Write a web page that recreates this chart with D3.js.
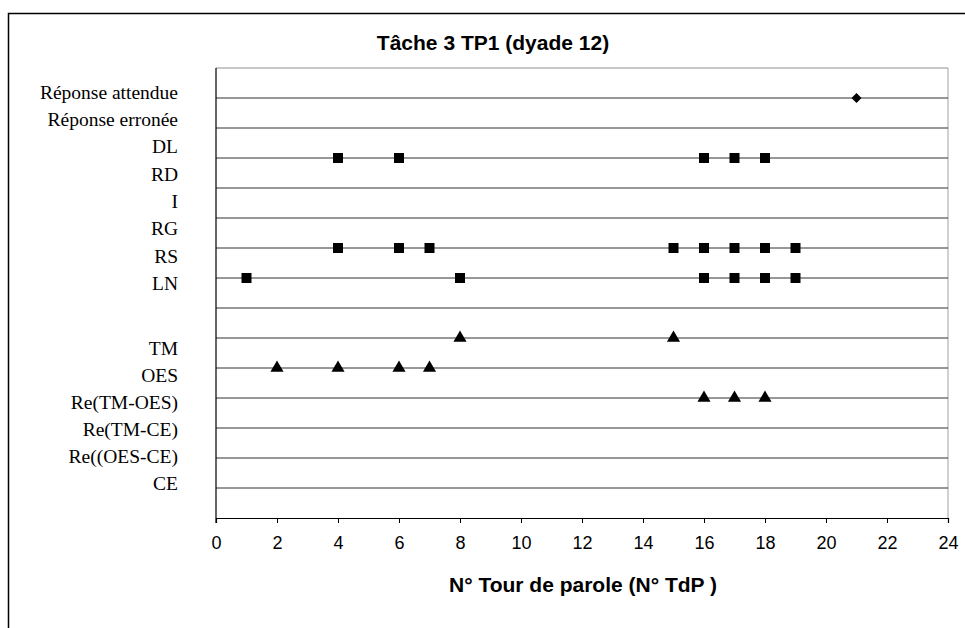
<!DOCTYPE html>
<html><head><meta charset="utf-8">
<script src="https://cdn.jsdelivr.net/npm/d3@7"></script>
<style>body{margin:0;background:#fff} svg{display:block}</style>
</head><body><svg id="c" width="965" height="628"></svg>
<script>
const chartTitle = "Tâche 3 TP1 (dyade 12)";
const xTitle = "N° Tour de parole (N° TdP )";
const xTicks = [0, 2, 4, 6, 8, 10, 12, 14, 16, 18, 20, 22, 24];
const gridLevels = [1, 2, 3, 4, 5, 6, 7, 8, 9, 10, 11, 12, 13, 14];
const labelsTop = ["Réponse attendue", "Réponse erronée", "DL", "RD", "I", "RG", "RS", "LN"];
const labelsBottom = ["TM", "OES", "Re(TM-OES)", "Re(TM-CE)", "Re((OES-CE)", "CE"];

const seriesNames = ["Réponse attendue", "DL", "RS", "LN", "TM", "OES", "Re(TM-OES)"];
const seriesLevel = [14, 12, 9, 8, 6, 5, 4];
const seriesShape = ["diamond", "square", "square", "square", "triangle", "triangle", "triangle"];
const ptsReponse = [21];
const ptsDL = [4, 6, 16, 17, 18];
const ptsRS = [4, 6, 7, 15, 16, 17, 18, 19];
const ptsLN = [1, 8, 16, 17, 18, 19];
const ptsTM = [8, 15];
const ptsOES = [2, 4, 6, 7];
const ptsReTMOES = [16, 17, 18];
const seriesPoints = [ptsReponse, ptsDL, ptsRS, ptsLN, ptsTM, ptsOES, ptsReTMOES];

const svg = d3.select("#c");
const L = 216, R = 948, T = 68, B = 518;
const x = d3.scaleLinear().domain([0, 24]).range([L, R]);
const y = d3.scaleLinear().domain([0, 15]).range([B, T]);

// outer frame
svg.append("rect").attr("x", 8.5).attr("y", 13.5).attr("width", 1000).attr("height", 700)
  .attr("fill", "none").attr("stroke", "#000").attr("stroke-width", 1.5);

// plot frame top & right
svg.append("line").attr("x1", L).attr("x2", R).attr("y1", y(15)).attr("y2", y(15))
  .attr("stroke", "#909090").attr("stroke-width", 1);
svg.append("line").attr("x1", R).attr("x2", R).attr("y1", T).attr("y2", B)
  .attr("stroke", "#a0a0a0").attr("stroke-width", 1);

// gridlines
svg.append("g").selectAll("line").data(gridLevels).join("line")
  .attr("x1", L).attr("x2", R).attr("y1", d => y(d)).attr("y2", d => y(d))
  .attr("stroke", "#303030").attr("stroke-width", 1);

// x axis
const xAxis = d3.axisBottom(x).tickValues(xTicks).tickSize(5).tickPadding(13).tickFormat(d3.format("d"));
const gx = svg.append("g").attr("transform", `translate(0,${B})`).call(xAxis);
gx.select(".domain").attr("stroke", "#000").attr("stroke-width", 1.2);
gx.selectAll(".tick line").attr("stroke", "#000");
gx.selectAll("text").attr("font-family", "'Liberation Sans', Arial, sans-serif")
  .attr("font-size", 18).attr("fill", "#000");

// y axis line
svg.append("line").attr("x1", L).attr("x2", L).attr("y1", T).attr("y2", B + 5)
  .attr("stroke", "#000").attr("stroke-width", 1.2);

// category labels (two text blocks)
const yTop = d3.scaleLinear().domain([0, labelsTop.length - 1]).range([92, 283]);
const yBot = d3.scaleLinear().domain([0, labelsBottom.length - 1]).range([348, 483]);
const lab = svg.append("g").attr("font-family", "'Liberation Serif', 'Times New Roman', serif")
  .attr("font-size", 19.5).attr("fill", "#000").attr("text-anchor", "end");
lab.selectAll("text.t").data(labelsTop).join("text").attr("class", "t")
  .attr("x", 178).attr("y", (d, i) => yTop(i)).attr("dy", "0.35em").text(d => d);
lab.selectAll("text.b").data(labelsBottom).join("text").attr("class", "b")
  .attr("x", 178).attr("y", (d, i) => yBot(i)).attr("dy", "0.35em").text(d => d);

// markers
const symType = { diamond: d3.symbolSquare, square: d3.symbolSquare, triangle: d3.symbolTriangle };
const symSize = { diamond: 50, square: 100, triangle: 75 };
const symRot = { diamond: 45, square: 0, triangle: 0 };
const data = [];
seriesNames.forEach((n, i) => seriesPoints[i].forEach(v => data.push({ v, lvl: seriesLevel[i], shape: seriesShape[i] })));
svg.append("g").selectAll("path").data(data).join("path")
  .attr("transform", d => `translate(${x(d.v)},${y(d.lvl)}) rotate(${symRot[d.shape]})`)
  .attr("d", d => d3.symbol().type(symType[d.shape]).size(symSize[d.shape])())
  .attr("fill", "#000");

// titles
svg.append("text").attr("x", 493).attr("y", 50).attr("text-anchor", "middle")
  .attr("font-family", "'Liberation Sans', Arial, sans-serif").attr("font-weight", "bold")
  .attr("font-size", 21).text(chartTitle);
svg.append("text").attr("x", 583).attr("y", 592).attr("text-anchor", "middle")
  .attr("font-family", "'Liberation Sans', Arial, sans-serif").attr("font-weight", "bold")
  .attr("font-size", 21).text(xTitle);
</script></body></html>
